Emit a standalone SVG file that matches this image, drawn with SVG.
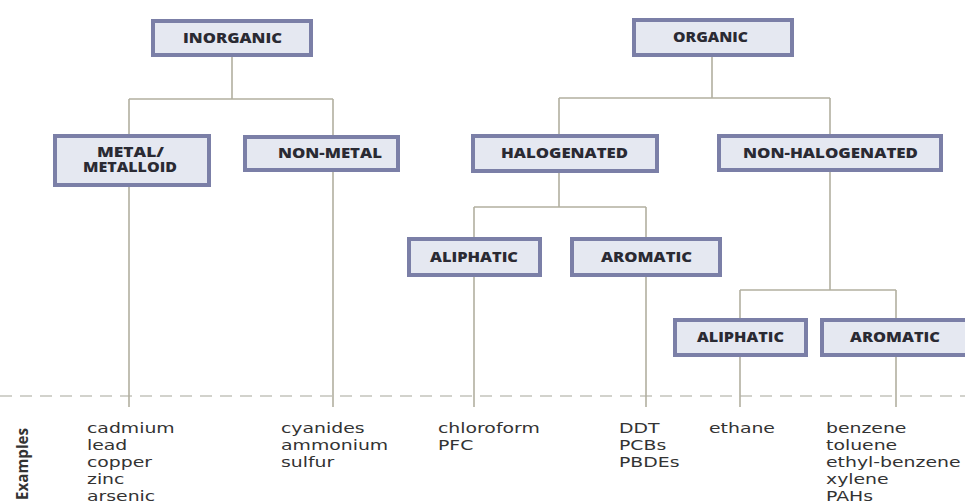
<svg xmlns="http://www.w3.org/2000/svg" width="965" height="504" viewBox="0 0 965 504">
<style>
.box{fill:#e5e8f1;stroke:#7b7fa7;stroke-width:4}
.lbl{font-family:"Open Sans","DejaVu Sans",sans-serif;font-weight:800;font-size:14.5px;fill:#2a2a33}
.lbl2{font-family:"Open Sans","DejaVu Sans",sans-serif;font-weight:800;font-size:13.5px;fill:#2a2a33}
.ln{stroke:#b2b0a0;stroke-width:1.6;fill:none}
.dash{stroke:#c4c4bc;stroke-width:1.5;stroke-dasharray:12 8;fill:none}
.ex{font-family:"DejaVu Sans",sans-serif;font-size:14.5px;fill:#333}
.exh{font-family:"Open Sans","Liberation Sans",sans-serif;font-weight:bold;font-size:16.5px;fill:#333}
</style>
<rect width="965" height="504" fill="#fff"/>
<g id="connectors">
<line class="dash" x1="0" y1="396" x2="965" y2="396"/>
<path class="ln" d="M232 57V99M129 99H333M129 99V134M333 99V135"/>
<path class="ln" d="M712 57V98M559 98H830M559 98V134M830 98V134"/>
<path class="ln" d="M559 173V207M474 207H646M474 207V237M646 207V237"/>
<path class="ln" d="M830 172V290M740 290H896M740 290V318M896 290V318"/>
<path class="ln" d="M129 187V407M333 172V407M474 277V407M646 277V407M740 357V407M896 357V407"/>
</g>
<g id="inorganic"><rect class="box" x="153" y="21" width="158" height="34"/><text class="lbl" x="183" y="43" textLength="99" lengthAdjust="spacingAndGlyphs">INORGANIC</text></g>
<g id="organic"><rect class="box" x="634" y="20" width="158" height="35"/><text class="lbl" x="673" y="42" textLength="75" lengthAdjust="spacingAndGlyphs">ORGANIC</text></g>
<g id="metal"><rect class="box" x="55" y="136" width="154" height="49"/><text class="lbl2" x="97" y="157" textLength="67" lengthAdjust="spacingAndGlyphs">METAL/</text><text class="lbl2" x="83" y="172" textLength="94" lengthAdjust="spacingAndGlyphs">METALLOID</text></g>
<g id="nonmetal"><rect class="box" x="245" y="137" width="153" height="33"/><text class="lbl" x="278" y="158" textLength="104" lengthAdjust="spacingAndGlyphs">NON-METAL</text></g>
<g id="halogenated"><rect class="box" x="473" y="136" width="184" height="35"/><text class="lbl" x="501" y="158" textLength="127" lengthAdjust="spacingAndGlyphs">HALOGENATED</text></g>
<g id="nonhalogenated"><rect class="box" x="719" y="136" width="222" height="34"/><text class="lbl" x="743" y="158" textLength="175" lengthAdjust="spacingAndGlyphs">NON-HALOGENATED</text></g>
<g id="aliphatic1"><rect class="box" x="409" y="239" width="131" height="36"/><text class="lbl" x="430" y="262" textLength="88" lengthAdjust="spacingAndGlyphs">ALIPHATIC</text></g>
<g id="aromatic1"><rect class="box" x="572" y="239" width="148" height="36"/><text class="lbl" x="601" y="262" textLength="91" lengthAdjust="spacingAndGlyphs">AROMATIC</text></g>
<g id="aliphatic2"><rect class="box" x="675" y="320" width="131" height="35"/><text class="lbl" x="697" y="342" textLength="87" lengthAdjust="spacingAndGlyphs">ALIPHATIC</text></g>
<g id="aromatic2"><rect class="box" x="822" y="320" width="148" height="35"/><text class="lbl" x="850" y="342" textLength="90" lengthAdjust="spacingAndGlyphs">AROMATIC</text></g>
<g id="examples">
<text class="exh" transform="translate(28,464) rotate(-90)" x="-36" y="0" textLength="72" lengthAdjust="spacingAndGlyphs">Examples</text>
<g transform="translate(87,0) scale(1.3,1)" class="ex"><text y="433">cadmium</text><text y="450">lead</text><text y="467">copper</text><text y="484">zinc</text><text y="501">arsenic</text></g>
<g transform="translate(281,0) scale(1.3,1)" class="ex"><text y="433">cyanides</text><text y="450">ammonium</text><text y="467">sulfur</text></g>
<g transform="translate(438,0) scale(1.3,1)" class="ex"><text y="433">chloroform</text><text y="450">PFC</text></g>
<g transform="translate(619,0) scale(1.3,1)" class="ex"><text y="433">DDT</text><text y="450">PCBs</text><text y="467">PBDEs</text></g>
<g transform="translate(709,0) scale(1.3,1)" class="ex"><text y="433">ethane</text></g>
<g transform="translate(826,0) scale(1.3,1)" class="ex"><text y="433">benzene</text><text y="450">toluene</text><text y="467">ethyl-benzene</text><text y="484">xylene</text><text y="501">PAHs</text></g>
</g>
</svg>
